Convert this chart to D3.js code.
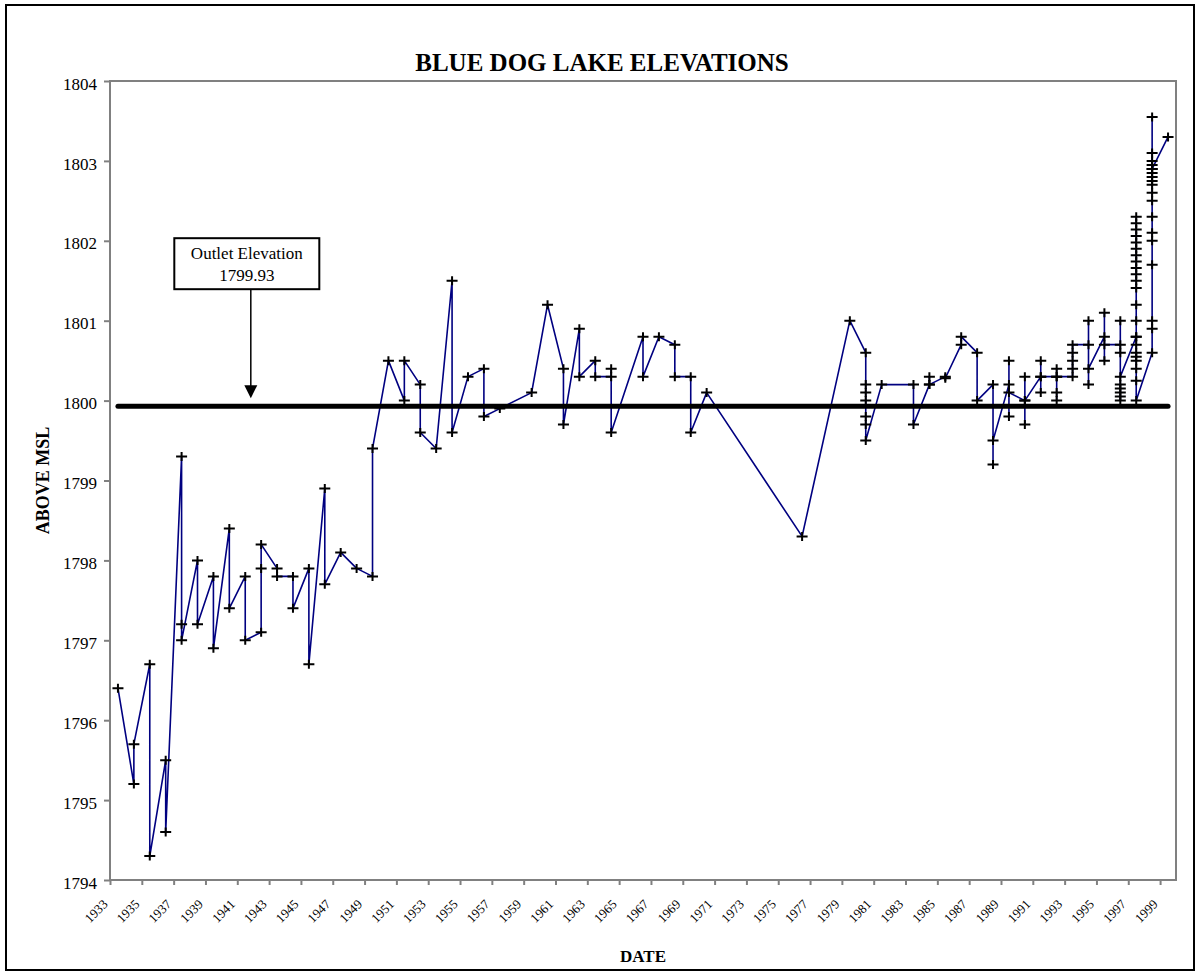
<!DOCTYPE html>
<html>
<head>
<meta charset="utf-8">
<title>Blue Dog Lake Elevations</title>
<script src="https://d3js.org/d3.v7.min.js"></script>
<style>
  body { margin: 0; background: #fff; }
  svg text { font-family: "Liberation Serif", "Times New Roman", serif; fill: #000; }
</style>
</head>
<body>
<div id="chart"></div>
<script>
// lake readings as [year, elevation ft above MSL], several per year in some years
var readings1930s = [
  [1933, 1796.4],
  [1934, 1795.2], [1934, 1795.7],
  [1935, 1796.7], [1935, 1794.3],
  [1936, 1795.5], [1936, 1794.6],
  [1937, 1799.3], [1937, 1797.2], [1937, 1797.0],
  [1938, 1798.0], [1938, 1797.2],
  [1939, 1797.8], [1939, 1796.9]
];
var readings1940s = [
  [1940, 1798.4], [1940, 1797.4],
  [1941, 1797.8], [1941, 1797.0],
  [1942, 1797.1], [1942, 1797.9], [1942, 1798.2],
  [1943, 1797.9], [1943, 1797.8],
  [1944, 1797.8], [1944, 1797.4],
  [1945, 1797.9], [1945, 1796.7],
  [1946, 1798.9], [1946, 1797.7],
  [1947, 1798.1],
  [1948, 1797.9],
  [1949, 1797.8], [1949, 1799.4]
];
var readings1950s = [
  [1950, 1800.5],
  [1951, 1800.0], [1951, 1800.5],
  [1952, 1800.2], [1952, 1799.6],
  [1953, 1799.4],
  [1954, 1801.5], [1954, 1799.6],
  [1955, 1800.3],
  [1956, 1800.4], [1956, 1799.8],
  [1957, 1799.9],
  [1959, 1800.1]
];
var readings1960s = [
  [1960, 1801.2],
  [1961, 1800.4], [1961, 1799.7],
  [1962, 1800.9], [1962, 1800.3],
  [1963, 1800.5], [1963, 1800.3],
  [1964, 1800.3], [1964, 1800.4], [1964, 1799.6],
  [1966, 1800.8], [1966, 1800.3],
  [1967, 1800.8],
  [1968, 1800.7], [1968, 1800.3],
  [1969, 1800.3], [1969, 1799.6]
];
var readings1970s = [
  [1970, 1800.1],
  [1976, 1798.3],
  [1979, 1801.0]
];
var readings1980s = [
  [1980, 1800.6], [1980, 1800.2], [1980, 1800.1], [1980, 1800.0], [1980, 1799.8], [1980, 1799.7], [1980, 1799.5],
  [1981, 1800.2],
  [1983, 1800.2], [1983, 1799.7],
  [1984, 1800.2], [1984, 1800.3], [1984, 1800.2],
  [1985, 1800.3], [1985, 1800.28],
  [1986, 1800.7], [1986, 1800.8],
  [1987, 1800.6], [1987, 1800.0],
  [1988, 1800.2], [1988, 1799.2], [1988, 1799.5],
  [1989, 1800.2], [1989, 1800.5], [1989, 1799.8], [1989, 1800.1]
];
var readings1990to1995 = [
  [1990, 1800.0], [1990, 1800.3], [1990, 1799.7], [1990, 1800.0],
  [1991, 1800.3], [1991, 1800.5], [1991, 1800.1], [1991, 1800.3],
  [1992, 1800.3], [1992, 1800.4], [1992, 1800.0], [1992, 1800.1], [1992, 1800.3],
  [1993, 1800.3], [1993, 1800.4], [1993, 1800.5], [1993, 1800.6], [1993, 1800.7],
  [1994, 1800.7], [1994, 1801.0], [1994, 1800.2], [1994, 1800.4],
  [1995, 1800.8], [1995, 1801.1], [1995, 1800.5], [1995, 1800.7]
];
var readings1996to1999 = [
  [1996, 1800.7], [1996, 1801.0], [1996, 1800.6], [1996, 1800.0], [1996, 1800.05],
  [1996, 1800.1], [1996, 1800.15], [1996, 1800.2], [1996, 1800.3],
  [1997, 1800.8], [1997, 1802.3], [1997, 1802.22], [1997, 1802.14], [1997, 1802.06],
  [1997, 1801.98], [1997, 1801.9], [1997, 1801.82], [1997, 1801.74], [1997, 1801.66],
  [1997, 1801.58], [1997, 1801.5], [1997, 1801.41], [1997, 1801.2], [1997, 1801.0],
  [1997, 1800.8], [1997, 1800.7], [1997, 1800.6], [1997, 1800.55], [1997, 1800.5],
  [1997, 1800.4], [1997, 1800.25], [1997, 1800.0],
  [1998, 1800.6], [1998, 1800.9], [1998, 1801.0], [1998, 1801.7], [1998, 1802.0],
  [1998, 1802.1], [1998, 1802.3], [1998, 1802.5], [1998, 1802.6], [1998, 1802.7],
  [1998, 1802.75], [1998, 1802.8], [1998, 1802.85], [1998, 1802.9], [1998, 1802.95],
  [1998, 1803.0], [1998, 1803.1], [1998, 1803.55], [1998, 1802.9],
  [1999, 1803.3]
];

// outlet elevation reference line
var outletElevation = 1799.93;
var outletLabel = ["Outlet Elevation", "1799.93"];
var annotationYear = 1941.85;

// axis ticks
var tickYears = [1933, 1935, 1937, 1939, 1941, 1943, 1945, 1947, 1949, 1951, 1953, 1955,
  1957, 1959, 1961, 1963, 1965, 1967, 1969, 1971, 1973, 1975, 1977, 1979, 1981, 1983,
  1985, 1987, 1989, 1991, 1993, 1995, 1997, 1999];
var elevationTicks = [1794, 1795, 1796, 1797, 1798, 1799, 1800, 1801, 1802, 1803, 1804];

var readings = [].concat(readings1930s, readings1940s, readings1950s, readings1960s,
  readings1970s, readings1980s, readings1990to1995, readings1996to1999);

// SVG parameters
var svgWidth = 1199;
var svgHeight = 974;
var margin = {top: 81, right: 23, bottom: 94, left: 110};
var width = svgWidth - margin.left - margin.right;
var height = svgHeight - margin.top - margin.bottom;

var svg = d3.select("#chart")
  .append("svg")
  .attr("width", svgWidth)
  .attr("height", svgHeight);

// outer chart border
svg.append("rect")
  .attr("x", 6)
  .attr("y", 5)
  .attr("width", 1188)
  .attr("height", 965)
  .attr("fill", "#fff")
  .attr("stroke", "#000")
  .attr("stroke-width", 2);

var chartGroup = svg.append("g")
  .attr("transform", `translate(${margin.left}, ${margin.top})`);

// scales: each year occupies one slot, readings sit in the middle of it
var xScale = d3.scaleLinear().domain([1933, 2000]).range([0, width]);
var yScale = d3.scaleLinear().domain([1794, 1804]).range([height, 0]);

// plot area frame
chartGroup.append("rect")
  .attr("width", width)
  .attr("height", height)
  .attr("fill", "none")
  .attr("stroke", "#808080")
  .attr("stroke-width", 2);

// y axis
var leftAxis = d3.axisLeft(yScale)
  .tickValues(elevationTicks)
  .tickSize(6)
  .tickFormat(d3.format("d"));
var yAxis = chartGroup.append("g")
  .call(leftAxis)
  .attr("font-size", 17)
  .attr("font-family", "Liberation Serif, serif");
yAxis.select(".domain").remove();
yAxis.selectAll(".tick line").attr("stroke", "#808080").attr("stroke-width", 2);
yAxis.selectAll(".tick text")
  .attr("fill", "#000")
  .attr("x", -13)
  .attr("dy", "0.48em");

// x axis
var bottomAxis = d3.axisBottom(xScale)
  .tickValues(tickYears)
  .tickSize(5)
  .tickFormat(d => String(d));
var xAxis = chartGroup.append("g")
  .attr("transform", `translate(0, ${height})`)
  .call(bottomAxis)
  .attr("font-size", 13)
  .attr("font-family", "Liberation Serif, serif");
xAxis.select(".domain").remove();
xAxis.selectAll(".tick line").attr("stroke", "#808080").attr("stroke-width", 2);
xAxis.selectAll(".tick text")
  .attr("fill", "#000")
  .attr("y", 0)
  .attr("dy", null)
  .attr("text-anchor", "end")
  .attr("transform", "translate(-2, 25) rotate(-45)");

// elevation line
var line = d3.line()
  .x(d => xScale(d[0] + 0.5))
  .y(d => yScale(d[1]));

chartGroup.append("path")
  .datum(readings)
  .attr("d", line)
  .attr("fill", "none")
  .attr("stroke", "#000080")
  .attr("stroke-width", 1.6)
  .attr("stroke-linejoin", "round");

// outlet elevation line
var firstYear = readings[0][0];
var lastYear = readings[readings.length - 1][0];
chartGroup.append("line")
  .attr("x1", xScale(firstYear + 0.5))
  .attr("x2", xScale(lastYear + 0.5))
  .attr("y1", yScale(outletElevation))
  .attr("y2", yScale(outletElevation))
  .attr("stroke", "#000")
  .attr("stroke-width", 5)
  .attr("stroke-linecap", "round");

// plus markers
chartGroup.selectAll(".marker")
  .data(readings)
  .enter()
  .append("path")
  .attr("class", "marker")
  .attr("transform", d => `translate(${xScale(d[0] + 0.5)}, ${yScale(d[1])})`)
  .attr("d", "M-5.5,0H5.5M0,-4.5V4.5")
  .attr("stroke", "#000")
  .attr("stroke-width", 2)
  .attr("fill", "none");

// annotation box with arrow
var arrowX = xScale(annotationYear);
var arrowTip = yScale(outletElevation) - 8;
chartGroup.append("line")
  .attr("x1", arrowX)
  .attr("x2", arrowX)
  .attr("y1", arrowTip - 109)
  .attr("y2", arrowTip - 12)
  .attr("stroke", "#000")
  .attr("stroke-width", 1.5);
chartGroup.append("path")
  .attr("d", `M${arrowX - 6.5},${arrowTip - 13}L${arrowX + 6.5},${arrowTip - 13}L${arrowX},${arrowTip}Z`)
  .attr("fill", "#000");
chartGroup.append("rect")
  .attr("x", arrowX - 76.5)
  .attr("y", arrowTip - 160)
  .attr("width", 145)
  .attr("height", 51)
  .attr("fill", "#fff")
  .attr("stroke", "#000")
  .attr("stroke-width", 2);
chartGroup.selectAll(".note")
  .data(outletLabel)
  .enter()
  .append("text")
  .attr("class", "note")
  .attr("x", arrowX - 4)
  .attr("y", (d, i) => arrowTip - 139 + i * 21.5)
  .attr("text-anchor", "middle")
  .attr("font-size", 17)
  .text(d => d);

// titles
svg.append("text")
  .attr("x", 602)
  .attr("y", 71)
  .attr("text-anchor", "middle")
  .attr("font-size", 25)
  .attr("font-weight", "bold")
  .text("BLUE DOG LAKE ELEVATIONS");

svg.append("text")
  .attr("transform", `translate(49, ${margin.top + height / 2}) rotate(-90)`)
  .attr("text-anchor", "middle")
  .attr("font-size", 18)
  .attr("font-weight", "bold")
  .text("ABOVE MSL");

svg.append("text")
  .attr("x", margin.left + width / 2)
  .attr("y", 962)
  .attr("text-anchor", "middle")
  .attr("font-size", 17)
  .attr("font-weight", "bold")
  .text("DATE");
</script>
</body>
</html>
